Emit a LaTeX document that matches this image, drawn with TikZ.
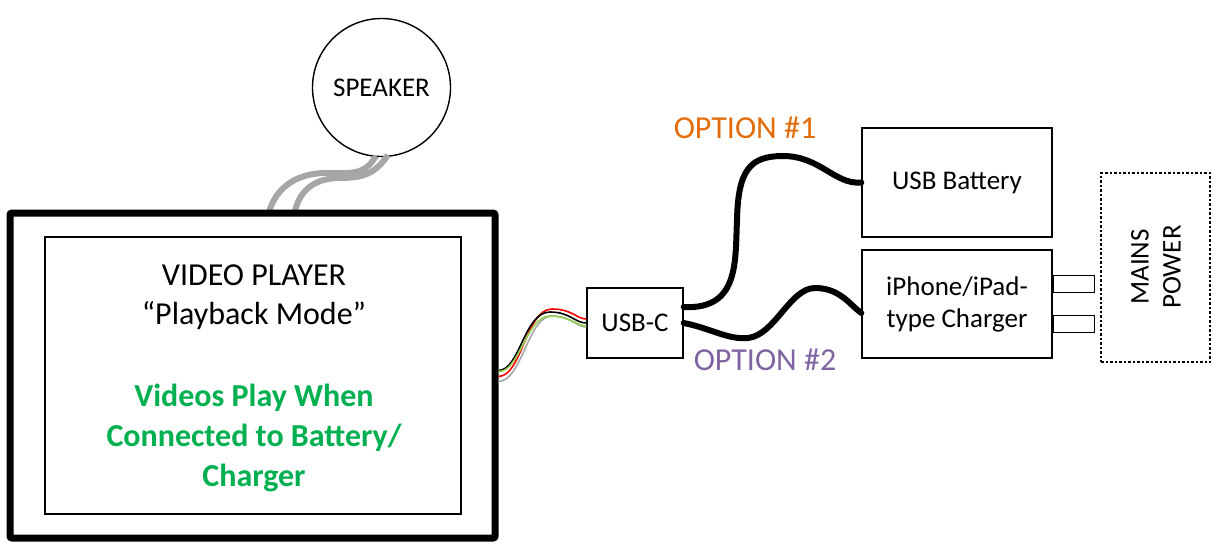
\documentclass[tikz,border=0pt]{standalone}
\usepackage{fontspec}
\setmainfont{Carlito}
\usetikzlibrary{calc}
\definecolor{optorange}{HTML}{E36C0A}
\definecolor{optpurple}{HTML}{8064A2}
\definecolor{goodgreen}{HTML}{00B050}
\definecolor{cablegray}{HTML}{A6A6A6}
\definecolor{wiregreen}{HTML}{92D050}
\tikzset{
  box/.style={draw, line width=1.4pt, inner sep=0pt, align=center},
  txt/.style={inner sep=0pt, align=center},
  bigfont/.style={font=\fontsize{32}{39}\selectfont},
  midfont/.style={font=\fontsize{27}{32}\selectfont},
  thickcable/.style={line width=6pt, line cap=round},
  spkcable/.style={line width=6pt, cablegray},
  wire/.style={line width=1.6pt}
}
\begin{document}
\begin{tikzpicture}[x=1pt,y=-1pt]
\useasboundingbox (0,0) rectangle (1230,555);
% speaker
\node[draw, circle, line width=1.4pt, minimum size=138pt, inner sep=0pt, midfont] (spk) at (381.5,87.5) {SPEAKER};
% speaker cables (drawn under the player box)
\draw[spkcable] (268,216) .. controls (275,185) and (300,172) .. (330,173) .. controls (358,174) and (366,172) .. (376,156);
\draw[spkcable] (294,216) .. controls (298,190) and (315,178) .. (340,178) .. controls (366,178) and (376,172) .. (388,155);
% video player
\node[draw, line width=7pt, rounded corners=2pt, minimum width=485pt, minimum height=325pt, inner sep=0pt, fill=white] (player) at (252.5,375.5) {};
\node[box, minimum width=416pt, minimum height=277pt] (screen) at (253,375.5) {};
\node[txt, bigfont] (title) at (254,297) {VIDEO PLAYER\\“Playback Mode”};
\node[txt, bigfont, font=\fontsize{32}{40}\selectfont\bfseries, text=goodgreen] (note) at (254,438) {Videos Play When\\Connected to Battery/\\Charger};
% USB-C
\node[box, minimum width=96pt, minimum height=70pt, midfont] (usbc) at (635,323) {USB-C};
% battery and charger
\node[box, minimum width=190pt, minimum height=109pt, midfont] (batt) at (957,182.5) {USB Battery};
\node[box, minimum width=190pt, minimum height=108pt, midfont] (chg) at (957,304) {iPhone/iPad-\\type Charger};
% prongs
\node[draw, line width=1.4pt, minimum width=41pt, minimum height=17pt, inner sep=0pt, anchor=west] (prong1) at ($(chg.east)+(0,-20)$) {};
\node[draw, line width=1.4pt, minimum width=41pt, minimum height=17pt, inner sep=0pt, anchor=west] (prong2) at ($(chg.east)+(0,20)$) {};
% mains
\node[draw, line width=1.8pt, dash pattern=on 2.5pt off 2pt, minimum width=109pt, minimum height=189pt, inner sep=0pt] (mains) at (1155.5,267.5) {};
\node[txt, midfont, rotate=90] (mainstxt) at (1156,267) {MAINS\\POWER};
% colored wires
\draw[wire, cablegray] ($(player.east)+(0,6)$) .. controls (522,381) and (528,316) .. (552,316) .. controls (570,316) and (577,327) .. (usbc.west |- 0,327);
\draw[wire, red] ($(player.east)+(0,1)$) .. controls (522,376) and (526,309) .. (552,309) .. controls (572,309) and (577,319) .. (usbc.west |- 0,319);
\draw[wire, black] ($(player.east)+(0,-5)$) .. controls (520,370) and (524,312) .. (550,312) .. controls (570,312) and (575,323) .. (usbc.west |- 0,323);
\draw[wire, wiregreen] ($(player.east)+(0,-4)$) .. controls (520,372) and (526,316) .. (550,316) .. controls (570,316) and (577,326) .. (usbc.west |- 0,326);
% thick cables
\draw[thickcable] ($(usbc.east)+(0,-16)$) .. controls (740,310) and (735,260) .. (737,220) .. controls (738,170) and (750,156) .. (783,156) .. controls (820,156) and (835,185) .. (batt.west);
\draw[thickcable] ($(usbc.east)+(0,0)$) .. controls (710,328) and (728,340) .. (748,338) .. controls (775,335) and (790,288) .. (815,288) .. controls (840,288) and (850,305) .. ($(chg.west)+(0,9)$);
% option labels
\node[txt, bigfont, text=optorange] (opt1) at (745,128) {OPTION \#1};
\node[txt, bigfont, text=optpurple] (opt2) at (765,360) {OPTION \#2};
\end{tikzpicture}
\end{document}
